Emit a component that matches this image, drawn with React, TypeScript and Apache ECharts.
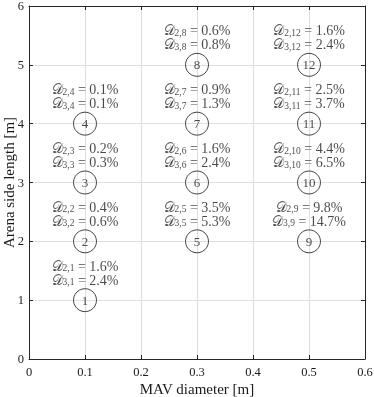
import React, { useEffect, useRef } from "react";
import * as echarts from "echarts";

const xValues = [0.1, 0.1, 0.1, 0.1, 0.3, 0.3, 0.3, 0.3, 0.5, 0.5, 0.5, 0.5];
const yValues = [1, 2, 3, 4, 2, 3, 4, 5, 2, 3, 4, 5];
const caseIds = [1, 2, 3, 4, 5, 6, 7, 8, 9, 10, 11, 12];
const d2Values = ["1.6", "0.4", "0.2", "0.1", "3.5", "1.6", "0.9", "0.6", "9.8", "4.4", "2.5", "1.6"];
const d3Values = ["2.4", "0.6", "0.3", "0.1", "5.3", "2.4", "1.3", "0.8", "14.7", "6.5", "3.7", "2.4"];

const FONT = "Liberation Serif";
const TXT = "#1a1a1a";
const AX = "#262626";

export default function App() {
  const ref = useRef<HTMLDivElement>(null);
  useEffect(() => {
    if (!ref.current) return;
    const chart = echarts.init(ref.current, undefined, { renderer: "svg" });
    const pts = xValues.map((x, i) => ({ value: [x, yValues[i]], id: caseIds[i] }));
    const axisCommon = {
      axisLine: { show: true, onZero: false, lineStyle: { color: AX, width: 1 } },
      axisTick: { show: true, inside: true, length: 4, lineStyle: { color: AX } },
      splitLine: { show: true, lineStyle: { color: "#dedede", width: 1 } },
    };
    chart.setOption({
      animation: false,
      textStyle: { fontFamily: FONT },
      grid: { left: 29, right: 9, top: 6, bottom: 38, containLabel: false, outerBoundsMode: "none" },
      xAxis: [
        {
          type: "value", min: 0, max: 0.6, interval: 0.1,
          ...axisCommon,
          axisLabel: { color: TXT, fontSize: 12.5, fontFamily: FONT, margin: 6,
            formatter: (v: number) => (v === 0 ? "0" : String(Math.round(v * 10) / 10)) },
          name: "MAV diameter [m]", nameLocation: "middle", nameGap: 22, nameMoveOverlap: false,
          nameTextStyle: { color: TXT, fontSize: 15, fontFamily: FONT },
        },
        {
          type: "value", min: 0, max: 0.6, interval: 0.1, position: "top",
          ...axisCommon, splitLine: { show: false }, axisLabel: { show: false },
        },
      ],
      yAxis: [
        {
          type: "value", min: 0, max: 6, interval: 1,
          ...axisCommon,
          axisLabel: { color: TXT, fontSize: 12.5, fontFamily: FONT, margin: 5 },
          name: "Arena side length [m]", nameLocation: "middle", nameGap: 13, nameMoveOverlap: false,
          nameTextStyle: { color: TXT, fontSize: 15, fontFamily: FONT },
        },
        {
          type: "value", min: 0, max: 6, interval: 1, position: "right",
          ...axisCommon, splitLine: { show: false }, axisLabel: { show: false },
        },
      ],
      series: [
        {
          type: "scatter",
          data: pts.map((p) => ({ value: p.value, name: String(p.id) })),
          symbol: "circle", symbolSize: 23,
          itemStyle: { color: "rgba(255,255,255,0)", borderColor: TXT, borderWidth: 1 },
          label: { show: true, position: "inside", formatter: "{b}", color: TXT, fontSize: 13, fontFamily: FONT },
          z: 3,
        },
        {
          type: "scatter",
          data: pts.map((p, i) => ({
            value: p.value,
            label: {
              formatter:
                `{d|𝒟}{s|2,${p.id}}{t| = ${d2Values[i]}%}\n{d|𝒟}{s|3,${p.id}}{t| = ${d3Values[i]}%}`,
            },
          })),
          symbolSize: 0,
          label: {
            show: true, position: "inside", offset: [0, -27], color: TXT,
            rich: {
              d: { fontSize: 14, fontFamily: FONT, color: TXT, lineHeight: 14 },
              s: { fontSize: 9.5, fontFamily: FONT, color: TXT, verticalAlign: "bottom", lineHeight: 14 },
              t: { fontSize: 14, fontFamily: FONT, color: TXT, lineHeight: 14 },
            },
          },
          z: 4,
        },
      ],
    });
    return () => chart.dispose();
  }, []);
  return <div ref={ref} style={{ position: "fixed", left: 0, top: 0, width: 374, height: 397 }} />;
}
